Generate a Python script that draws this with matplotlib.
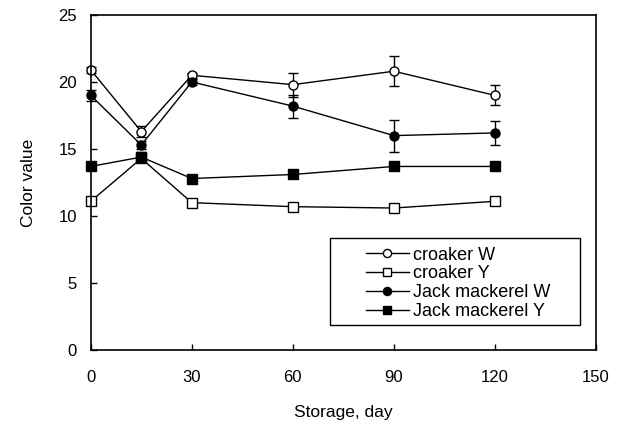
import matplotlib
matplotlib.use("Agg")
import matplotlib.pyplot as plt
from matplotlib.patches import Rectangle

plt.rcParams["font.family"] = ["Liberation Sans", "DejaVu Sans"]

days = [0, 15, 30, 60, 90, 120]

croaker_w = [20.9, 16.3, 20.5, 19.8, 20.8, 19.0]
croaker_w_err = [0.2, 0.4, 0.2, 0.9, 1.1, 0.75]
croaker_y = [11.1, 14.3, 11.0, 10.7, 10.6, 11.1]
croaker_y_err = [0.1, 0.2, 0.1, 0.1, 0.1, 0.1]
jack_w = [19.0, 15.3, 20.0, 18.2, 16.0, 16.2]
jack_w_err = [0.4, 0.3, 0.2, 0.85, 1.2, 0.9]
jack_y = [13.7, 14.4, 12.8, 13.1, 13.7, 13.7]
jack_y_err = [0.1, 0.4, 0.1, 0.1, 0.1, 0.1]

series = [
    ("croaker W", croaker_w, croaker_w_err, "o", "white"),
    ("croaker Y", croaker_y, croaker_y_err, "s", "white"),
    ("Jack mackerel W", jack_w, jack_w_err, "o", "black"),
    ("Jack mackerel Y", jack_y, jack_y_err, "s", "black"),
]

fig = plt.figure(figsize=(6.26, 4.26), dpi=100)
ax = fig.add_axes([0.145, 0.178, 0.807, 0.787])

for label, vals, errs, marker, face in series:
    cont = ax.errorbar(
        days, vals, yerr=errs, label=label,
        color="black", marker=marker, markerfacecolor=face,
        markeredgecolor="black", markersize=6.5, linewidth=1.0,
        elinewidth=1.0, capsize=3.5, capthick=1.0,
    )
    for art in cont.get_children():
        art.set_clip_on(False)

ax.set_xlim(0, 150)
ax.set_ylim(0, 25)
ax.set_xticks([0, 30, 60, 90, 120, 150])
ax.set_yticks([0, 5, 10, 15, 20, 25])
ax.tick_params(direction="in", labelsize=12, length=4, width=1)
ax.tick_params(axis="x", pad=14)
ax.tick_params(axis="y", pad=10)
for spine in ax.spines.values():
    spine.set_linewidth(1.2)

ax.set_xlabel("Storage, day", fontsize=12.5, labelpad=15)
ax.set_ylabel("Color value", fontsize=12.5, labelpad=16)

# legend frame drawn separately (wide left margin like the original)
ax.add_patch(Rectangle(
    (0.474, 0.075), 0.495, 0.26, transform=ax.transAxes,
    facecolor="white", edgecolor="black", linewidth=1.0, zorder=4,
))
handles, labels = ax.get_legend_handles_labels()
handles = [h[0] for h in handles]
leg = ax.legend(
    handles, labels, loc="lower left", bbox_to_anchor=(0.519, 0.052),
    fontsize=13, frameon=False,
    handlelength=2.4, handletextpad=0.2, labelspacing=0.1,
    borderpad=0.2, markerscale=0.9,
)
leg.set_zorder(5)

fig.savefig("out.png", dpi=100)
